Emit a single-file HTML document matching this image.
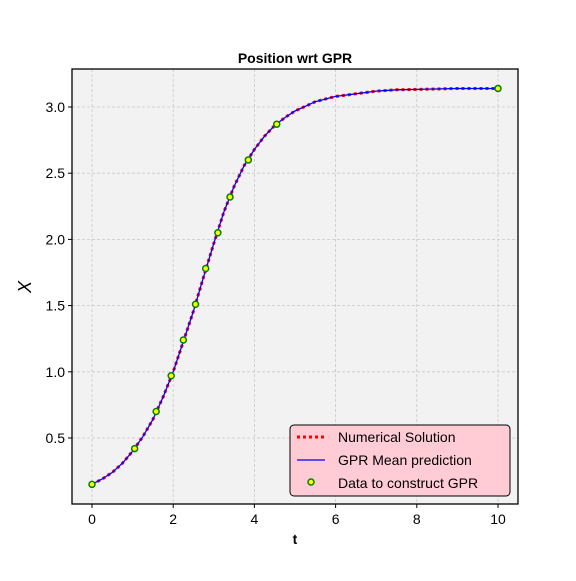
<!DOCTYPE html>
<html><head><meta charset="utf-8"><style>
body{margin:0;background:#fff}
svg text{font-family:"Liberation Sans",sans-serif}
</style></head><body>
<svg id="c" width="576" height="576" xmlns="http://www.w3.org/2000/svg">
<rect x="0" y="0" width="576" height="576" fill="#fff"/>
<rect x="72" y="69" width="446" height="435" fill="#f2f2f2"/>
<g id="grid"></g>
<g id="series"></g>
<rect x="72" y="69" width="446" height="435" fill="none" stroke="#000" stroke-width="1.3"/>
<g id="axes"></g>
<text x="295" y="63" text-anchor="middle" font-size="14" font-weight="bold">Position wrt GPR</text>
<text x="295" y="544" text-anchor="middle" font-size="14" font-weight="bold">t</text>
<text x="31" y="287" text-anchor="middle" font-size="18" font-style="italic" transform="rotate(-90 31 287)">X</text>
<g>
<rect x="290" y="425" width="220" height="71" rx="4" fill="#ffccd5" stroke="#000" stroke-width="1"/>
<g><line x1="297" y1="437" x2="325" y2="437" stroke="red" stroke-width="3" stroke-dasharray="3,3"/><text x="338" y="442" font-size="14">Numerical Solution</text></g>
<g><line x1="297" y1="460" x2="325" y2="460" stroke="blue" stroke-width="1.3"/><text x="338" y="465" font-size="14">GPR Mean prediction</text></g>
<g><circle cx="311" cy="482" r="3" fill="yellow" stroke="green" stroke-width="1.5"/><text x="338" y="488" font-size="14">Data to construct GPR</text></g>
</g>
</svg>
<script>
const tVals=[0,0.25,0.5,0.75,1,1.25,1.5,1.75,2,2.25,2.5,2.75,3,3.25,3.5,3.75,4,4.25,4.5,4.75,5,5.5,6,6.5,7,7.5,8,9,10];
const xVals=[0.15,0.19,0.24,0.31,0.40,0.51,0.64,0.81,1.00,1.23,1.46,1.72,1.97,2.21,2.40,2.56,2.68,2.78,2.86,2.92,2.97,3.04,3.08,3.10,3.12,3.13,3.133,3.14,3.14];
const dataT=[0,1.05,1.58,1.95,2.25,2.55,2.8,3.1,3.4,3.85,4.55,10];
const dataX=[0.15,0.42,0.70,0.97,1.24,1.51,1.78,2.05,2.32,2.60,2.87,3.14];
const xTicks=[0,2,4,6,8,10];
const yTicks=[0.5,1.0,1.5,2.0,2.5,3.0];
const NS="http://www.w3.org/2000/svg";
const sx=t=>92+t*40.6;
const sy=v=>107+(3.0-v)*132.4;
function mk(tag,attrs,parent){const e=document.createElementNS(NS,tag);for(const k in attrs)e.setAttribute(k,attrs[k]);parent.appendChild(e);return e;}
const grid=document.getElementById('grid'),axes=document.getElementById('axes'),ser=document.getElementById('series');
xTicks.forEach(t=>{
 const g=mk('line',{x1:sx(t),x2:sx(t),y1:69,y2:504,stroke:'#c8c8c8','stroke-width':0.8,'stroke-dasharray':'3,2'},grid);
 
 
 mk('line',{x1:sx(t),x2:sx(t),y1:504,y2:508,stroke:'#000'},axes);
 const tx=mk('text',{x:sx(t),y:524,'text-anchor':'middle','font-size':14},axes);tx.textContent=t;
 
 
});
yTicks.forEach(v=>{
 const g=mk('line',{x1:72,x2:518,y1:sy(v),y2:sy(v),stroke:'#c8c8c8','stroke-width':0.8,'stroke-dasharray':'3,2'},grid);
 
 
 mk('line',{x1:68,x2:72,y1:sy(v),y2:sy(v),stroke:'#000'},axes);
 const tx=mk('text',{x:65,y:sy(v)+5,'text-anchor':'end','font-size':14},axes);tx.textContent=v.toFixed(1);
 
 
});
const pts=tVals.map((t,i)=>sx(t).toFixed(1)+','+sy(xVals[i]).toFixed(1)).join(' ');
const num=mk('polyline',{points:pts,fill:'none',stroke:'red','stroke-width':3,'stroke-dasharray':'3,3'},ser);


const gpr=mk('polyline',{points:pts,fill:'none',stroke:'blue','stroke-width':1.3},ser);


dataT.forEach((t,i)=>{
 const c=mk('circle',{cx:sx(t),cy:sy(dataX[i]),r:3,fill:'yellow',stroke:'green','stroke-width':1.5},ser);
 
 
});
</script>
</body></html>
